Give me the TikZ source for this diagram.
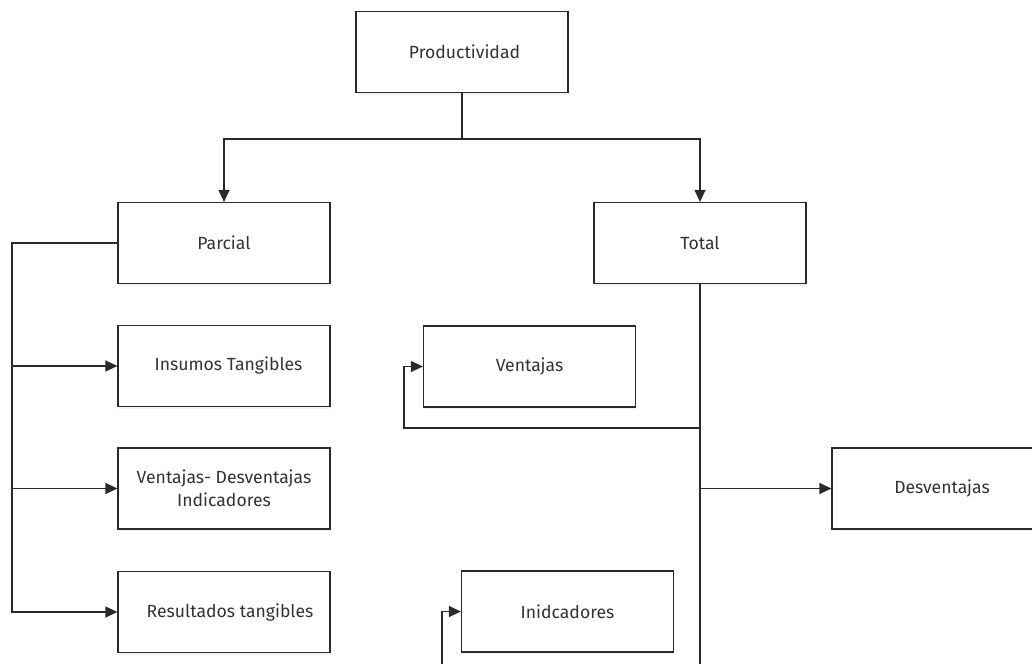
\documentclass[tikz,border=0pt]{standalone}
\usepackage{fontspec}
\setmainfont{Fira Sans}
\usetikzlibrary{arrows.meta,shadows}
\definecolor{ink}{HTML}{2A2A2A}
\definecolor{txt}{HTML}{333333}
\definecolor{shade}{HTML}{C9DDF0}
\tikzset{
  box/.style={draw=ink, line width=1.2pt, fill=white, minimum width=212pt,
    minimum height=81pt, inner sep=0pt, align=center, text=txt,
    font=\fontsize{17.6pt}{23pt}\selectfont,
    drop shadow={shadow xshift=0.8pt, shadow yshift=-2.2pt, opacity=0.35, fill=shade}},
  link/.style={draw=ink, line width=1.2pt},
  arr/.style={link, -{Triangle[length=12pt,width=11pt]}}
}
\begin{document}
\begin{tikzpicture}[x=1pt,y=-1pt]
\useasboundingbox (0,0) rectangle (1032,664);
\clip (0,0) rectangle (1032,664);
\fill[white] (0,0) rectangle (1032,664);

% boxes
\node[box] (prod)    at (462,52)    {\hspace*{5pt}Productividad};
\node[box] (parcial) at (224,243)   {Parcial};
\node[box] (total)   at (700,243)   {Total};
\node[box] (insumos) at (224,366)   {\hspace*{9pt}Insumos Tangibles};
\node[box] (vd)      at (224,488.5) {Ventajas- Desventajas\\Indicadores};
\node[box] (result)  at (224,612)   {\hspace*{12pt}Resultados tangibles};
\node[box] (ventajas) at (529.5,366.5) {Ventajas};
\node[box] (desv)    at (938,488.5) {\hspace*{8pt}Desventajas};
\node[box] (inid)    at (567.5,611.5) {Inidcadores};

% helper points for the routed connectors
\coordinate (split) at (462,139);
\coordinate (rail)  at (12,243);
\coordinate (tbot)  at (700,664);
\coordinate (vjoin) at (700,428);
\coordinate (vturn) at (404,428);
\coordinate (ibot)  at (442,664);

% top level split
\draw[link] (prod) -- (split);
\draw[arr] (split) -| (parcial);
\draw[arr] (split) -| (total);

% partial productivity branch
\draw[link] (parcial.west) -- (rail) -- (rail |- result.west);
\draw[arr] (rail) |- (insumos.west);
\draw[arr] (rail) |- (vd.west);
\draw[arr] (rail) |- (result.west);

% total productivity branch
\draw[link] (total.south) -- (tbot);
\draw[arr] (vjoin) -- (vturn) |- (ventajas.west);
\draw[arr] (total.south |- desv.west) -- (desv.west);
\draw[arr] (ibot) |- (inid.west);
\end{tikzpicture}
\end{document}
